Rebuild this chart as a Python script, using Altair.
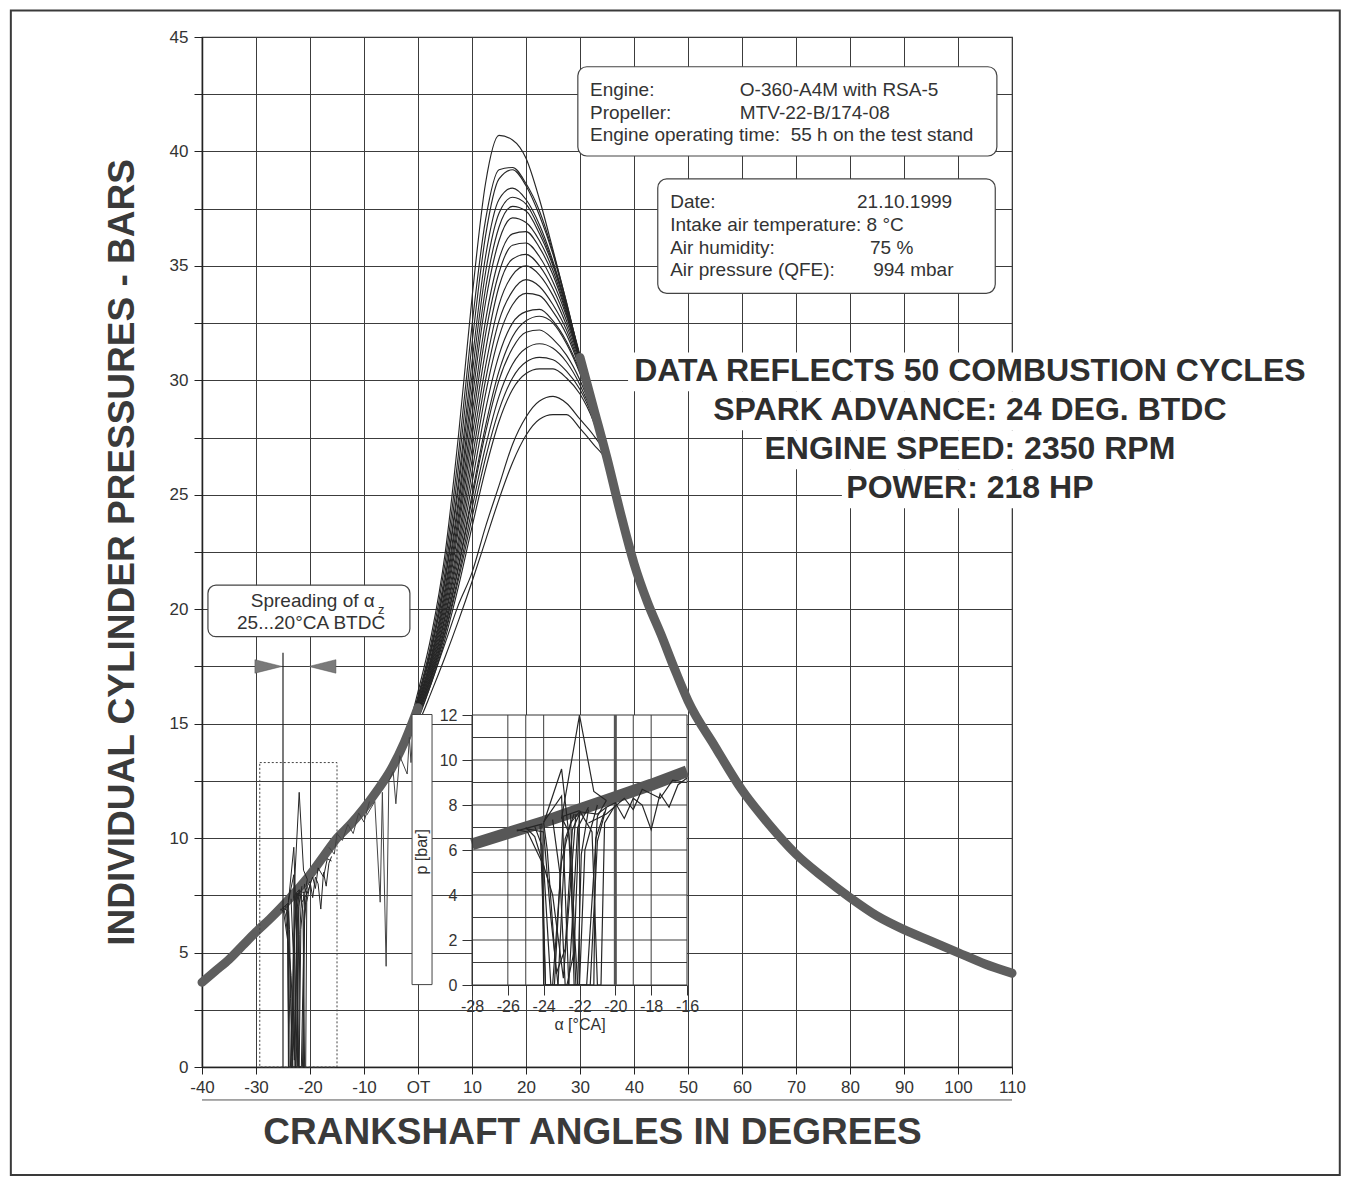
import altair as alt
import pandas as pd

# ---------------- values ----------------
# shared compression stroke (all cycles lie in one thick band)
comp_angle = [-40, -37.5, -35, -32.5, -30, -27.5, -25, -22.5, -20, -17.5, -15, -12.5, -10, -7.5, -5, -2.5]
comp_p = [3.7, 4.2, 4.7, 5.3, 5.9, 6.45, 7.05, 7.7, 8.4, 9.2, 10.0, 10.6, 11.3, 12.1, 13.0, 14.2]
tdc_band_angle = [0]
tdc_band_p = [15.7]

# combustion part of individual cycles
cyc_angle = [0, 2.5, 5, 7.5, 10, 12.5, 15, 17.5, 20, 22.5, 25, 27.5, 30, 32.5, 35, 37.5]
cycle_01 = [16.4, 18.9, 22.4, 27.6, 33.6, 38.6, 40.7, 40.5, 39.7, 37.9, 35.7, 33.4, 31.0, 28.8, 26.6, 24.2]
cycle_02 = [16.2, 18.6, 22.0, 26.8, 32.4, 37.0, 39.2, 39.3, 38.6, 37.4, 35.6, 33.4, 31.0, 28.8, 26.6, 24.2]
cycle_03 = [16.1, 18.4, 21.6, 26.2, 31.6, 36.3, 38.8, 39.2, 38.5, 37.2, 35.5, 33.3, 31.1, 28.9, 26.7, 24.3]
cycle_04 = [16.0, 18.2, 21.3, 25.6, 30.8, 35.4, 37.9, 38.4, 37.9, 36.8, 35.2, 33.2, 30.9, 28.7, 26.5, 24.1]
cycle_05 = [16.1, 18.3, 21.2, 25.3, 30.2, 34.7, 37.3, 38.0, 37.7, 36.6, 35.1, 33.2, 31.0, 28.8, 26.6, 24.2]
cycle_06 = [15.9, 18.0, 20.9, 24.8, 29.6, 34.0, 36.7, 37.6, 37.4, 36.4, 35.0, 33.1, 30.9, 28.7, 26.6, 24.2]
cycle_07 = [15.9, 17.9, 20.7, 24.5, 29.1, 33.4, 36.1, 37.1, 36.9, 36.1, 34.8, 33.0, 30.9, 28.8, 26.6, 24.2]
cycle_08 = [15.8, 17.8, 20.5, 24.1, 28.5, 32.6, 35.3, 36.4, 36.5, 35.8, 34.6, 32.9, 30.8, 28.7, 26.5, 24.1]
cycle_09 = [15.8, 17.7, 20.3, 23.8, 28.0, 32.0, 34.7, 35.9, 36.0, 35.4, 34.3, 32.8, 30.9, 28.8, 26.6, 24.2]
cycle_10 = [15.7, 17.6, 20.1, 23.5, 27.5, 31.3, 34.1, 35.3, 35.5, 35.0, 34.0, 32.6, 30.8, 28.7, 26.6, 24.2]
cycle_11 = [15.7, 17.5, 19.9, 23.1, 27.0, 30.6, 33.3, 34.6, 35.0, 34.6, 33.7, 32.4, 30.7, 28.7, 26.5, 24.1]
cycle_12 = [15.6, 17.4, 19.7, 22.8, 26.5, 30.0, 32.6, 33.9, 34.4, 34.1, 33.3, 32.2, 30.6, 28.7, 26.6, 24.2]
cycle_13 = [15.6, 17.3, 19.6, 22.5, 26.0, 29.4, 31.9, 33.3, 33.8, 33.7, 33.0, 32.0, 30.5, 28.6, 26.5, 24.1]
cycle_14 = [15.5, 17.2, 19.4, 22.2, 25.5, 28.7, 31.1, 32.5, 33.0, 33.1, 32.6, 31.7, 30.4, 28.7, 26.6, 24.2]
cycle_15 = [15.5, 17.1, 19.2, 21.9, 25.0, 28.0, 30.4, 31.9, 32.6, 32.8, 32.5, 31.6, 30.3, 28.6, 26.5, 24.2]
cycle_16 = [15.5, 17.1, 19.2, 21.8, 24.8, 27.7, 30.0, 31.4, 32.1, 32.2, 31.8, 31.1, 30.0, 28.5, 26.5, 24.1]
cycle_17 = [15.4, 17.0, 19.0, 21.5, 24.4, 27.1, 29.3, 30.7, 31.4, 31.6, 31.4, 30.8, 29.8, 28.4, 26.4, 24.1]
cycle_18 = [15.4, 16.9, 18.9, 21.3, 24.0, 26.6, 28.7, 30.1, 30.8, 31.0, 30.9, 30.4, 29.6, 28.3, 26.4, 24.1]
cycle_19 = [15.3, 16.8, 18.7, 21.0, 23.6, 26.1, 28.2, 29.6, 30.3, 30.5, 30.5, 30.1, 29.4, 28.2, 26.4, 24.2]
cycle_20 = [15.2, 16.8, 18.5, 20.2, 21.6, 23.6, 25.4, 27.2, 28.4, 29.1, 29.3, 29.0, 28.3, 27.6, 26.6, 24.2]
cycle_21 = [15.0, 16.4, 17.9, 19.5, 21.2, 23.0, 24.8, 26.4, 27.6, 28.3, 28.5, 28.5, 27.9, 27.2, 26.4, 24.2]

# falling edge where all cycles merge, and shared expansion stroke
edge_angle = [30, 32.5, 35, 37.5]
edge_p = [31.0, 28.8, 26.6, 24.2]
exp_angle = [40, 42.5, 45, 47.5, 50, 55, 60, 65, 70, 75, 80, 85, 90, 95, 100, 105, 110]
exp_p = [22.0, 20.3, 18.9, 17.4, 16.0, 14.0, 12.1, 10.6, 9.3, 8.3, 7.4, 6.6, 6.0, 5.5, 5.0, 4.5, 4.1]

# ignition disturbances (spark), shown in main chart and inset
s1_a = [-25.5, -24.1, -24.0, -23.4, -22.9, -22.0]
s1_p = [6.85, 7.15, 0.0, 0.0, 7.5, 7.75]
s2_a = [-25.0, -24.5, -24.0, -23.6, -22.6, -22.1, -21.5]
s2_p = [7.0, 6.6, 5.3, 0.0, 0.0, 7.0, 7.9]
s3_a = [-24.0, -23.0, -22.5, -22.3, -21.6, -21.0, -20.5]
s3_p = [7.2, 9.6, 6.0, 0.0, 0.0, 7.5, 8.2]
s4_a = [-23.0, -22.0, -21.2, -20.5]
s4_p = [7.4, 12.0, 8.6, 8.2]
s5_a = [-23.0, -22.6, -22.2, -21.4, -21.0, -20.5]
s5_p = [7.45, 6.8, 0.0, 0.0, 6.4, 7.9]
s6_a = [-24.0, -23.8, -23.3, -22.8, -22.4, -22.0]
s6_p = [7.2, 6.0, 0.5, 1.6, 6.9, 7.6]
s7_a = [-22.0, -21.3, -21.0, -20.8, -20.6, -20.0]
s7_p = [7.75, 6.8, 0.0, 0.0, 7.2, 8.0]
s8_a = [-24.2, -23.9, -23.5, -23.0, -22.5, -22.0]
s8_p = [7.1, 0.0, 0.0, 5.5, 7.2, 7.7]
s9_a = [-25.5, -24.9, -24.0, -23.5, -22.9, -22.2]
s9_p = [6.9, 6.8, 5.3, 4.0, 0.3, 7.6]
s10_a = [-24.5, -24.1, -23.9, -23.2, -22.8, -22.3]
s10_p = [7.05, 6.2, 0.0, 0.0, 6.5, 7.6]
s11_a = [-23.5, -23.1, -22.8, -22.1, -21.9, -21.5]
s11_p = [7.35, 5.0, 0.0, 0.0, 5.8, 7.8]
s12_a = [-24.0, -23.0, -22.6, -22.0, -21.7, -21.0]
s12_p = [7.25, 8.4, 0.0, 0.0, 6.0, 8.0]
s13_a = [-22.5, -22.3, -22.1, -21.2, -21.1, -20.6]
s13_p = [7.6, 2.6, 0.0, 0.0, 6.5, 7.7]
s14_a = [-25.0, -24.0, -23.6, -23.2, -22.7, -22.3, -22.0]
s14_p = [6.95, 6.8, 3.0, 0.0, 0.0, 1.5, 7.7]
n1_a = [-22.0, -21.0, -20.5, -20.0, -19.5, -19.0, -18.5, -18.0, -17.5, -17.0, -16.5, -16.0]
n1_p = [7.7, 7.6, 7.9, 8.1, 7.4, 8.3, 8.0, 6.9, 8.5, 7.9, 8.9, 9.2]
n2_a = [-21.5, -20.5, -19.5, -19.0, -18.5, -17.5, -16.8, -16.0]
n2_p = [7.2, 7.6, 8.3, 7.8, 8.7, 8.3, 9.1, 9.0]
# disturbances later in compression (main chart only)
n3_a = [-9.5, -8.0, -7.0, -6.6, -5.9, -5.4, -4.6, -4.1, -3.4, -2.0, -1.6, -1.3, -0.8]
n3_p = [11.0, 11.6, 7.2, 12.0, 4.4, 12.5, 12.9, 11.5, 13.6, 12.8, 14.4, 13.3, 15.3]
n4_a = [-16.5, -15.5, -15.0, -14.0, -13.0, -12.0, -11.0, -10.0, -9.0]
n4_p = [9.6, 9.3, 10.2, 9.9, 10.6, 10.2, 11.1, 10.7, 11.6]

# inset band
inset_angle = [-28, -26, -24, -22, -20, -18, -16]
inset_p = [6.25, 6.75, 7.25, 7.8, 8.35, 8.9, 9.5]

# ticks / grids
x_ticks = [-40, -30, -20, -10, 0, 10, 20, 30, 40, 50, 60, 70, 80, 90, 100, 110]
y_ticks = [0, 2.5, 5, 7.5, 10, 12.5, 15, 17.5, 20, 22.5, 25, 27.5, 30, 32.5, 35, 37.5, 40, 42.5, 45]
inset_x_ticks = [-28, -26, -24, -22, -20, -18, -16]
inset_y_ticks = [0, 2, 4, 6, 8, 10, 12]
inset_grid_x = [-26, -25, -24, -22, -19, -18]
inset_grid_y = [1, 2, 3, 4, 5, 6, 7, 8, 9, 10, 11]

# texts
x_title = "CRANKSHAFT ANGLES IN DEGREES"
y_title = "INDIVIDUAL CYLINDER PRESSURES - BARS"
engine_labels = ["Engine:", "Propeller:", "Engine operating time:\u00a0 55 h on the test stand"]
engine_values = ["O-360-A4M with RSA-5", "MTV-22-B/174-08"]
date_labels = ["Date:", "Intake air temperature: 8 °C", "Air humidity:", "Air pressure (QFE):"]
date_values = ["21.10.1999", "75 %", "994 mbar"]
big_lines = ["DATA REFLECTS 50 COMBUSTION CYCLES", "SPARK ADVANCE: 24 DEG. BTDC",
             "ENGINE SPEED: 2350 RPM", "POWER: 218 HP"]
spread_line1 = "Spreading of α"
spread_sub = "z"
spread_line2 = "25...20°CA BTDC"
inset_ytitle = "p [bar]"
inset_xtitle = "α [°CA]"

# page frame and the second baseline under the x labels (scanned page decoration), in data units
frame_a = [-75.4]
frame_a2 = [170.7]
frame_p = [-4.72]
frame_p2 = [46.16]
under_axis_p = [-1.44]

# ---------------- tables ----------------
cycles = [cycle_01, cycle_02, cycle_03, cycle_04, cycle_05, cycle_06, cycle_07, cycle_08,
          cycle_09, cycle_10, cycle_11, cycle_12, cycle_13, cycle_14, cycle_15, cycle_16,
          cycle_17, cycle_18, cycle_19, cycle_20, cycle_21]
rows = []
for k, vals in enumerate(cycles):
    for a, p in zip(comp_angle + cyc_angle + exp_angle, comp_p + vals + exp_p):
        rows.append({"a": a, "p": p, "c": f"c{k}"})
cyc_df = pd.DataFrame(rows)

band_df = pd.DataFrame(
    [{"a": a, "p": p, "c": "comp"} for a, p in zip(comp_angle + tdc_band_angle, comp_p + tdc_band_p)]
    + [{"a": a, "p": p, "c": "exp"} for a, p in zip(edge_angle + exp_angle, edge_p + exp_p)]
)

spike_sets = [("s1", s1_a, s1_p), ("s2", s2_a, s2_p), ("s3", s3_a, s3_p), ("s4", s4_a, s4_p),
              ("s5", s5_a, s5_p), ("s6", s6_a, s6_p), ("s7", s7_a, s7_p), ("s8", s8_a, s8_p),
              ("s9", s9_a, s9_p), ("s10", s10_a, s10_p), ("s11", s11_a, s11_p),
              ("s12", s12_a, s12_p), ("s13", s13_a, s13_p), ("s14", s14_a, s14_p),
              ("n1", n1_a, n1_p), ("n2", n2_a, n2_p)]
spike_df = pd.DataFrame([{"a": a, "p": p, "c": n} for n, aa, pp in spike_sets for a, p in zip(aa, pp)])
noise_df = pd.DataFrame([{"a": a, "p": p, "c": n} for n, aa, pp in [("n3", n3_a, n3_p), ("n4", n4_a, n4_p)]
                         for a, p in zip(aa, pp)])
inset_band_df = pd.DataFrame({"a": inset_angle, "p": inset_p})

FONT = "Liberation Sans, Arial, sans-serif"
INK = "#262626"
GRID = "#3c3c3c"
TXT = "#333333"

xs = alt.Scale(domain=[-40, 110], nice=False, zero=False)
ys = alt.Scale(domain=[0, 45], nice=False, zero=False)
X = alt.X("a:Q", scale=xs, axis=alt.Axis(
    values=x_ticks, labelExpr="datum.value == 0 ? 'OT' : '' + datum.value",
    grid=True, gridColor=GRID, gridWidth=1, domainColor="#222", domainWidth=1.5,
    tickColor="#222", tickSize=7, labelFontSize=17, labelFont=FONT, labelColor=TXT,
    labelPadding=5, labelFlush=False, title=x_title, titleFont=FONT, titleFontSize=37,
    titleFontWeight="bold", titleColor="#3a3a3a", titlePadding=19, titleX=390))
Y = alt.Y("p:Q", scale=ys, axis=alt.Axis(
    values=y_ticks, labelExpr="datum.value % 5 == 0 ? '' + datum.value : ''",
    grid=True, gridColor=GRID, gridWidth=1, domainColor="#222", domainWidth=1.5,
    tickColor="#222", tickSize=8, labelFontSize=17, labelFont=FONT, labelColor=TXT,
    labelPadding=6, labelFlush=False, title=y_title, titleFont=FONT, titleFontSize=37,
    titleFontWeight="bold", titleColor="#3a3a3a", titlePadding=28))


def base(df):
    return alt.Chart(df)


frame = base(pd.DataFrame({"a": frame_a, "a2": frame_a2, "p": frame_p, "p2": frame_p2})).mark_rect(
    fill=None, stroke="#3a3a3a", strokeWidth=2).encode(x=X, x2="a2:Q", y=Y, y2="p2:Q")
under_axis = base(pd.DataFrame({"a": [-40], "a2": [110], "p": under_axis_p})).mark_rule(
    color="#555", strokeWidth=1).encode(x=X, x2="a2:Q", y=Y)

lines = base(cyc_df).mark_line(color=INK, strokeWidth=1.15, interpolate="monotone").encode(
    x=X, y=Y, detail="c:N")
band = base(band_df).mark_line(color="#5e5e5e", strokeWidth=9, interpolate="monotone",
                               strokeCap="round").encode(x=X, y=Y, detail="c:N")
spikes_main = base(spike_df).mark_line(color=INK, strokeWidth=1).encode(x=X, y=Y, detail="c:N")
noise_main = base(noise_df).mark_line(color="#444", strokeWidth=1).encode(x=X, y=Y, detail="c:N")

# spreading annotation
dotted = base(pd.DataFrame({"a": [-29.3], "a2": [-15.0], "p": [0.0], "p2": [13.3]})).mark_rect(
    fill=None, stroke="#444", strokeDash=[2, 2], strokeWidth=1).encode(x=X, x2="a2:Q", y=Y, y2="p2:Q")
rule25 = base(pd.DataFrame({"a": [-25.0], "p": [0.0], "p2": [18.1]})).mark_rule(
    color="#222", strokeWidth=1.2).encode(x=X, y=Y, y2="p2:Q")
tri_r = base(pd.DataFrame({"a": [-27.7], "p": [17.5]})).mark_point(
    shape="M -1 -0.5 L 1 0 L -1 0.5 Z", size=729, filled=True, fill="#7a7a7a",
    stroke="#555", strokeWidth=0.5, opacity=1).encode(x=X, y=Y)
tri_l = base(pd.DataFrame({"a": [-17.7], "p": [17.5]})).mark_point(
    shape="M 1 -0.5 L -1 0 L 1 0.5 Z", size=729, filled=True, fill="#7a7a7a",
    stroke="#555", strokeWidth=0.5, opacity=1).encode(x=X, y=Y)
spread_box = base(pd.DataFrame({"a": [-38.9], "a2": [-1.5], "p": [18.8], "p2": [21.05]})).mark_rect(
    fill="white", stroke="#444", strokeWidth=1.2, cornerRadius=8).encode(x=X, x2="a2:Q", y=Y, y2="p2:Q")
spread_t1 = base(pd.DataFrame({"a": [-8.0], "p": [20.36], "t": [spread_line1]})).mark_text(
    align="right", baseline="middle", font=FONT, fontSize=19, color=TXT).encode(x=X, y=Y, text="t:N")
spread_sub_t = base(pd.DataFrame({"a": [-7.4], "p": [19.98], "t": [spread_sub]})).mark_text(
    align="left", baseline="middle", font=FONT, fontSize=13, color=TXT).encode(x=X, y=Y, text="t:N")
spread_t2 = base(pd.DataFrame({"a": [-19.8], "p": [19.39], "t": [spread_line2]})).mark_text(
    align="center", baseline="middle", font=FONT, fontSize=19, color=TXT).encode(x=X, y=Y, text="t:N")

# info boxes
eng_box = base(pd.DataFrame({"a": [29.6], "a2": [107.2], "p": [39.8], "p2": [43.7]})).mark_rect(
    fill="white", stroke="#444", strokeWidth=1.2, cornerRadius=9).encode(x=X, x2="a2:Q", y=Y, y2="p2:Q")
eng_lab = base(pd.DataFrame({"a": [31.85] * 3, "p": [42.7, 41.7, 40.7], "t": engine_labels})).mark_text(
    align="left", baseline="middle", font=FONT, fontSize=19, color=TXT).encode(x=X, y=Y, text="t:N")
eng_val = base(pd.DataFrame({"a": [59.6] * 2, "p": [42.7, 41.7], "t": engine_values})).mark_text(
    align="left", baseline="middle", font=FONT, fontSize=19, color=TXT).encode(x=X, y=Y, text="t:N")
date_box = base(pd.DataFrame({"a": [44.4], "a2": [106.9], "p": [33.8], "p2": [38.8]})).mark_rect(
    fill="white", stroke="#444", strokeWidth=1.2, cornerRadius=9).encode(x=X, x2="a2:Q", y=Y, y2="p2:Q")
date_lab = base(pd.DataFrame({"a": [46.7] * 4, "p": [37.8, 36.8, 35.8, 34.8], "t": date_labels})).mark_text(
    align="left", baseline="middle", font=FONT, fontSize=19, color=TXT).encode(x=X, y=Y, text="t:N")
date_val = base(pd.DataFrame({"a": [81.3, 83.7, 84.3], "p": [37.8, 35.8, 34.8], "t": date_values})).mark_text(
    align="left", baseline="middle", font=FONT, fontSize=19, color=TXT).encode(x=X, y=Y, text="t:N")

# big statement
big_bg = base(pd.DataFrame({"a": [38.9, 54.4, 63.7, 78.5], "a2": [112, 112, 112, 112],
                            "p": [29.52, 27.82, 26.11, 24.41], "p2": [31.22, 29.52, 27.82, 26.11]})).mark_rect(
    fill="white").encode(x=X, x2="a2:Q", y=Y, y2="p2:Q")
big_txt = base(pd.DataFrame({"a": [102.2] * 4, "p": [30.4, 28.7, 27.0, 25.3], "t": big_lines})).mark_text(
    align="center", baseline="middle", font=FONT, fontSize=32, fontWeight="bold", color="#2e2e2e").encode(
    x=X, y=Y, text="t:N")

# inset y-title box (drawn in main coordinates)
pbox = base(pd.DataFrame({"a": [-1.1], "a2": [2.6], "p": [3.6], "p2": [15.4]})).mark_rect(
    fill="white", stroke="#444", strokeWidth=1).encode(x=X, x2="a2:Q", y=Y, y2="p2:Q")
ptxt = base(pd.DataFrame({"a": [0.75], "p": [9.4], "t": [inset_ytitle]})).mark_text(
    align="center", baseline="middle", angle=270, font=FONT, fontSize=16, color=TXT).encode(
    x=X, y=Y, text="t:N")

main = alt.layer(frame, under_axis, lines, band, spikes_main, noise_main, dotted, rule25, tri_r, tri_l,
                 spread_box, spread_t1, spread_sub_t, spread_t2,
                 eng_box, eng_lab, eng_val, date_box, date_lab, date_val,
                 big_bg, big_txt, pbox, ptxt)

# ---------------- inset ----------------
xi = alt.Scale(domain=[-28, -16], range=[270, 485], nice=False, zero=False)
yi = alt.Scale(domain=[0, 12], range=[948, 678], nice=False, zero=False)
XI = alt.X("a:Q", scale=xi, axis=alt.Axis(
    orient="bottom", offset=-82, values=inset_x_ticks, labelExpr="'' + datum.value",
    grid=False, tickSize=10, tickColor="#333",
    domainColor="#333", labelFontSize=16, labelFont=FONT, labelColor=TXT, labelPadding=3,
    labelFlush=False, title=inset_xtitle, titleFont=FONT, titleFontSize=16, titleFontWeight="normal",
    titleColor=TXT, titlePadding=2, zindex=2))
YI = alt.Y("p:Q", scale=yi, axis=alt.Axis(
    orient="left", offset=-270, values=inset_y_ticks, grid=False, tickSize=10, tickColor="#333",
    domainColor="#333", labelFontSize=16, labelFont=FONT, labelColor=TXT, labelPadding=5,
    labelFlush=False, title=None, zindex=2))

ibg = base(pd.DataFrame({"a": [-28], "a2": [-16], "p": [0], "p2": [12]})).mark_rect(
    fill="white", stroke="#333", strokeWidth=1).encode(x=XI, x2="a2:Q", y=YI, y2="p2:Q")
igx = base(pd.DataFrame({"a": inset_grid_x, "p": [0] * len(inset_grid_x), "p2": [12] * len(inset_grid_x)})).mark_rule(
    color=GRID, strokeWidth=1).encode(x=XI, y=YI, y2="p2:Q")
igy = base(pd.DataFrame({"p": inset_grid_y, "a": [-28] * len(inset_grid_y), "a2": [-16] * len(inset_grid_y)})).mark_rule(
    color=GRID, strokeWidth=1).encode(y=YI, x=XI, x2="a2:Q")
i20 = base(pd.DataFrame({"a": [-20], "p": [0], "p2": [12]})).mark_rule(
    color="#555", strokeWidth=3).encode(x=XI, y=YI, y2="p2:Q")
iband = base(inset_band_df).mark_line(color="#575757", strokeWidth=12).encode(x=XI, y=YI)
ispk = base(spike_df).mark_line(color=INK, strokeWidth=1.2).encode(x=XI, y=YI, detail="c:N")

inset = alt.layer(ibg, igx, igy, i20, iband, ispk)

chart = alt.layer(main, inset).resolve_scale(x="independent", y="independent").properties(
    width=810, height=1030, autosize="none",
    padding={"left": 194, "top": 29, "right": 330, "bottom": 110},
    background="white",
).configure_view(stroke="#333", strokeWidth=1.2)

chart.save("out.html", embed_options={"renderer": "svg", "actions": False})
